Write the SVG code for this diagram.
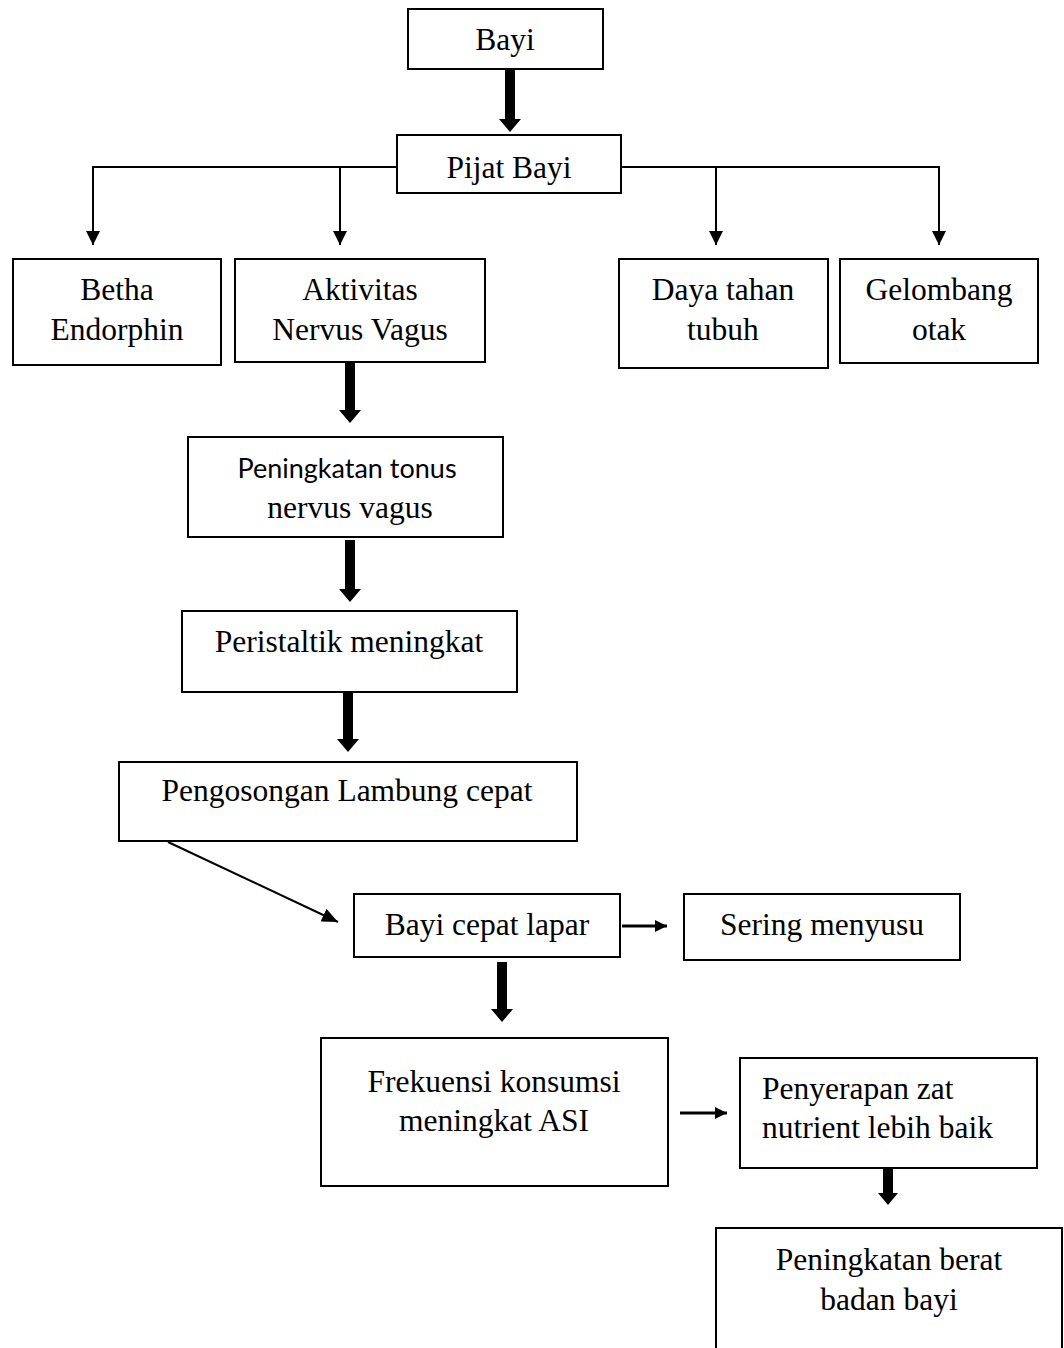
<svg xmlns="http://www.w3.org/2000/svg" width="1064" height="1348" viewBox="0 0 1064 1348">
<style>
.box{fill:#fff;stroke:#000;stroke-width:2}
.t{font-family:"Liberation Serif","Times New Roman",serif;font-size:31.5px;fill:#000;text-anchor:middle}
.tl{font-family:"Liberation Serif","Times New Roman",serif;font-size:31.5px;fill:#000;text-anchor:start}
.s{font-family:Lato,"Open Sans",sans-serif;font-size:27px;fill:#000;text-anchor:middle}
.ln{fill:none;stroke:#000;stroke-width:2}
.ln3{fill:none;stroke:#000;stroke-width:3}
.thick{fill:#000;stroke:none}
</style>
<defs>
<marker id="ah" viewBox="0 0 14 14" refX="14" refY="7" markerWidth="14" markerHeight="14" orient="auto" markerUnits="userSpaceOnUse"><path d="M0,0 L14,7 L0,14 z" fill="#000"/></marker>
<marker id="ahs" viewBox="0 0 12 12" refX="12" refY="6" markerWidth="12" markerHeight="12" orient="auto" markerUnits="userSpaceOnUse"><path d="M0,0 L12,6 L0,12 z" fill="#000"/></marker>
<marker id="ahd" viewBox="0 0 16 14" refX="16" refY="7" markerWidth="16" markerHeight="14" orient="auto" markerUnits="userSpaceOnUse"><path d="M0,0 L16,7 L0,14 z" fill="#000"/></marker>
</defs>

<g id="connectors">
<path class="thick" d="M505,70 H515 V119 H521 L510,132 L499,119 H505 Z"/>
<path class="ln" d="M397,167 H93 V245" marker-end="url(#ah)"/>
<path class="ln" d="M340,167 V245" marker-end="url(#ah)"/>
<path class="ln" d="M621,167 H939 V245" marker-end="url(#ah)"/>
<path class="ln" d="M716,167 V245" marker-end="url(#ah)"/>
<path class="thick" d="M345,363 H355 V410 H361 L350,423 L339,410 H345 Z"/>
<path class="thick" d="M345,540 H355 V589 H361 L350,602 L339,589 H345 Z"/>
<path class="thick" d="M343,693 H353 V739 H359 L348,752 L337,739 H343 Z"/>
<path class="ln" d="M168,842 L338,922" marker-end="url(#ahd)"/>
<path class="ln3" d="M622,926 H667" marker-end="url(#ahs)"/>
<path class="thick" d="M497,962 H507 V1009 H513 L502,1022 L491,1009 H497 Z"/>
<path class="ln3" d="M680,1113 H727" marker-end="url(#ahs)"/>
<path class="thick" d="M883,1168 H893 V1193 H898 L888,1205 L878,1193 H883 Z"/>
</g>

<g id="n-bayi"><rect class="box" x="408" y="9" width="195" height="60"/><text class="t" x="505" y="50">Bayi</text></g>
<g id="n-pijat"><rect class="box" x="397" y="135" width="224" height="58"/><text class="t" x="509" y="178">Pijat Bayi</text></g>
<g id="n-betha"><rect class="box" x="13" y="259" width="208" height="106"/><text class="t" x="117" y="300">Betha</text><text class="t" x="117" y="340">Endorphin</text></g>
<g id="n-aktivitas"><rect class="box" x="235" y="259" width="250" height="103"/><text class="t" x="360" y="300">Aktivitas</text><text class="t" x="360" y="340">Nervus Vagus</text></g>
<g id="n-daya"><rect class="box" x="619" y="259" width="209" height="109"/><text class="t" x="723" y="300">Daya tahan</text><text class="t" x="723" y="340">tubuh</text></g>
<g id="n-gelombang"><rect class="box" x="840" y="259" width="198" height="104"/><text class="t" x="939" y="300">Gelombang</text><text class="t" x="939" y="340">otak</text></g>
<g id="n-tonus"><rect class="box" x="188" y="437" width="315" height="100"/><text class="s" x="347" y="478">Peningkatan tonus</text><text class="t" x="350" y="518">nervus vagus</text></g>
<g id="n-peristaltik"><rect class="box" x="182" y="611" width="335" height="81"/><text class="t" x="349" y="652">Peristaltik meningkat</text></g>
<g id="n-pengosongan"><rect class="box" x="119" y="762" width="458" height="79"/><text class="t" x="347" y="801">Pengosongan Lambung cepat</text></g>
<g id="n-lapar"><rect class="box" x="354" y="894" width="266" height="63"/><text class="t" x="487" y="935">Bayi cepat lapar</text></g>
<g id="n-sering"><rect class="box" x="684" y="894" width="276" height="66"/><text class="t" x="822" y="935">Sering menyusu</text></g>
<g id="n-frekuensi"><rect class="box" x="321" y="1038" width="347" height="148"/><text class="t" x="494" y="1092">Frekuensi konsumsi</text><text class="t" x="494" y="1131">meningkat ASI</text></g>
<g id="n-penyerapan"><rect class="box" x="740" y="1058" width="297" height="110"/><text class="tl" x="762" y="1099">Penyerapan zat</text><text class="tl" x="762" y="1138">nutrient lebih baik</text></g>
<g id="n-berat"><rect class="box" x="716" y="1228" width="346" height="140"/><text class="t" x="889" y="1270">Peningkatan berat</text><text class="t" x="889" y="1310">badan bayi</text></g>
</svg>
